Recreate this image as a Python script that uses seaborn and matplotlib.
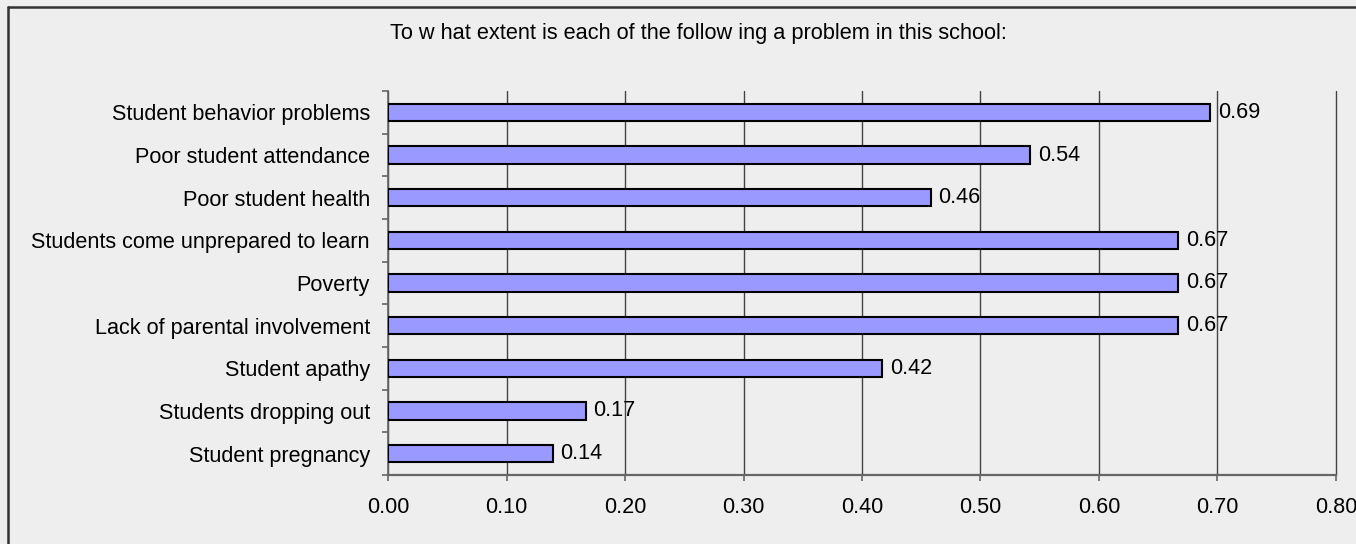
import matplotlib
matplotlib.use("Agg")
import matplotlib.pyplot as plt
from matplotlib.lines import Line2D
from matplotlib.ticker import FixedLocator
import seaborn as sns
import pandas as pd

categories = [
    "Student behavior problems",
    "Poor student attendance",
    "Poor student health",
    "Students come unprepared to learn",
    "Poverty",
    "Lack of parental involvement",
    "Student apathy",
    "Students dropping out",
    "Student pregnancy",
]
values = [0.694, 0.542, 0.458, 0.667, 0.667, 0.667, 0.417, 0.167, 0.139]
x_ticks = [0.0, 0.1, 0.2, 0.3, 0.4, 0.5, 0.6, 0.7, 0.8]
title = "To w hat extent is each of the follow ing a problem in this school:"

sns.set_theme(style="white")
plt.rcParams["font.family"] = ["Liberation Sans", "DejaVu Sans"]

BG = "#eeeeee"
W, H = 1356, 544
fig = plt.figure(figsize=(W / 100, H / 100), dpi=100, facecolor=BG)
ax = fig.add_axes([388 / W, 1 - 475 / H, (1336 - 388) / W, (475 - 91) / H])
ax.set_facecolor(BG)

df = pd.DataFrame({"problem": categories, "score": values})
sns.barplot(data=df, x="score", y="problem", order=categories, orient="h",
            color="#9999ff", saturation=1, width=0.4, edgecolor="black",
            linewidth=1.5, ax=ax, zorder=3)

ax.set_xlim(0, 0.8)
ax.set_ylim(len(categories) - 0.5, -0.5)
ax.set_xticks(x_ticks)
ax.set_xticklabels([f"{t:.2f}" for t in x_ticks])
ax.set_xlabel("")
ax.set_ylabel("")

# vertical gridlines
ax.grid(axis="x", color="#444444", linewidth=1.0, zorder=0)
ax.grid(axis="y", visible=False)
for gl in ax.get_xgridlines():
    gl.set_clip_on(False)
ax.set_axisbelow(True)

for s in ["top", "right"]:
    ax.spines[s].set_visible(False)
ax.spines["bottom"].set_color("#666666")
ax.spines["bottom"].set_linewidth(1.6)
ax.spines["left"].set_color("#666666")
ax.spines["left"].set_linewidth(1.2)

# boundary ticks between categories
ax.yaxis.set_minor_locator(FixedLocator([i - 0.5 for i in range(len(categories) + 1)]))
ax.tick_params(axis="y", which="minor", length=4.5, width=1.2, color="#666666",
               direction="out", left=True)
ax.tick_params(axis="y", which="major", length=0, pad=13, labelsize=15.6,
               labelcolor="black")
ax.tick_params(axis="x", which="major", length=4, width=1.2, color="#666666",
               direction="out", bottom=True, pad=12, labelsize=15.6,
               labelcolor="black")

# value labels
for i, v in enumerate(values):
    ax.annotate(f"{v:.2f}", xy=(v, i), xytext=(5.5, 0), textcoords="offset points",
                ha="left", va="center", fontsize=15.6, color="black", zorder=4)

fig.text(698 / W, 1 - 34 / H, title, ha="center", va="center", fontsize=15.7,
         color="black")

# chart frame (left and top edges visible)
fig.add_artist(Line2D([7.5 / W, 7.5 / W], [0, 1 - 7 / H], transform=fig.transFigure,
                      color="#333333", linewidth=1.8))
fig.add_artist(Line2D([7.5 / W, 1], [1 - 7 / H, 1 - 7 / H], transform=fig.transFigure,
                      color="#333333", linewidth=1.8))

fig.savefig("out.png", dpi=100, facecolor=BG)
